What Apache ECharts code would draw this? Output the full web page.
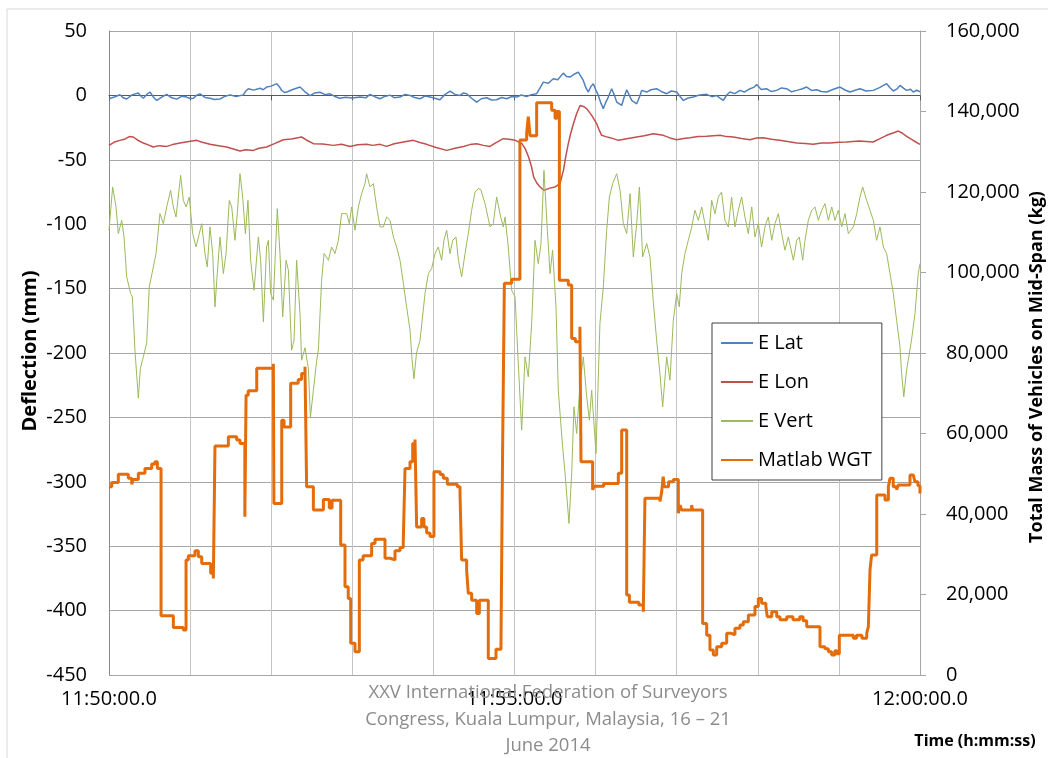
<!DOCTYPE html>
<html><head><meta charset="utf-8">
<script src="https://cdn.jsdelivr.net/npm/echarts@6/dist/echarts.min.js"></script>
<style>html,body{margin:0;padding:0;background:#fff}#c{width:1048px;height:758px}</style>
</head><body><div id="c"></div>
<script>
// Time axis: seconds after 11:50:00.0, tick every 60 s
const timeTickLabels = ['11:50:00.0','','','','','11:55:00.0','','','','','12:00:00.0'];
const seriesNames = ['E Lat','E Lon','E Vert','Matlab WGT'];

// E Lat (mm) [t, value]
const eLat = [[0,-2.6],[4,-1.2],[8.1,0.5],[10.5,-1.8],[13.1,-2.8],[17,0.4],[21.7,1.8],[23.5,-0.5],[25.4,-2.2],[28,0.9],[30.3,2.6],[33,-1.5],[35.3,-3.9],[39,-1.4],[42.7,0.8],[46.5,-1.9],[50.1,-2.9],[54,-0.6],[57.5,-1.3],[60,-2.4],[62.4,-2.2],[65,0.2],[67.3,1.2],[71,-1.6],[74.7,-2.2],[78,-3.2],[82.1,-2.8],[86,-0.6],[89.5,0.4],[94,-0.8],[99.4,0.4],[101,3.2],[103.1,5.2],[107,4.1],[111.7,5.6],[114,4.4],[116.7,6.5],[120,7.2],[124.1,9.1],[126,6.8],[127.8,3.8],[130,2.2],[131.5,2.6],[136,4.6],[141.3,6.5],[145,2.8],[148.7,-0.2],[152,1.8],[156.1,2.4],[160,0.6],[163.5,1.2],[167,-0.8],[170.9,-2.2],[175,-1.4],[180,-2.0],[185.7,-1.3],[190,-1.9],[193.1,0.8],[197,-1.2],[200.5,-2.6],[204,-0.8],[207.9,0.2],[211,-1.8],[215.3,-1.3],[219,0.8],[222.7,0],[226,-1.6],[230.1,-2.6],[234,-0.4],[237.5,-1.3],[241,-2.2],[244.8,-3.4],[248.5,0.6],[252.3,3.4],[256,0.8],[259.7,0],[262,1.8],[264.6,1.3],[268,-2.0],[272,-5.2],[275.5,-2.6],[279.4,-1.8],[283,-3.6],[286.8,-3.4],[290.5,-1.6],[294.2,-2.6],[298,-0.9],[301.6,-1.3],[305,0.3],[309,-0.8],[312.5,0.6],[316.4,1.3],[319,6.0],[321.3,10.3],[325,9.4],[328.7,12.9],[332,12.2],[336.1,17.3],[338.5,14.6],[341,14.2],[344,16.4],[347.2,18.1],[349,15.0],[350.9,11.6],[352.8,6.0],[354.6,2.6],[356.5,6.8],[358.3,9.1],[360,4.6],[362,0],[364,-6.2],[365.7,-10.3],[367.5,-5.4],[369.4,-1.3],[371.9,5.2],[373.8,0.4],[375.6,-5.2],[379.3,-7.8],[381,-1.8],[383,4.4],[386.7,-3.9],[390.4,-6.5],[392.5,-1.0],[394.1,3.9],[397.8,2.6],[401,4.4],[405.2,5.2],[409,2.8],[412.6,1.3],[416,3.4],[420,2.6],[422.5,-0.8],[424.9,-3.9],[428.5,-2.0],[432.3,-1.3],[437,0.4],[442.2,0.8],[446,-1.0],[449.6,0],[452,-2.2],[454.5,-3.9],[457,0.3],[459.4,2.6],[463,1.4],[466.8,3.9],[470,2.6],[474.2,5.2],[477,6.2],[479.1,8.5],[482.5,4.6],[486.5,5.2],[490,3.0],[493.9,3.9],[497.5,5.8],[501.3,5.2],[505,2.8],[508.8,3.9],[512.5,5.0],[516.2,6.5],[520,3.8],[523.6,4.4],[527,3.0],[531,2.6],[536,4.8],[540.8,6.5],[544.5,4.2],[548.2,2.6],[552,4.0],[555.6,5.2],[560,3.4],[565.5,3.9],[570,6.0],[575.3,9.1],[578,5.8],[580.3,3.4],[583,5.0],[585.2,7.8],[588,5.4],[590.1,3.9],[593,4.8],[595,2.6],[597.5,4.0],[600,2.8]];

// E Lon (mm)
const eLon = [[0,-38.8],[4,-36.2],[8.1,-34.9],[12,-33.8],[15,-32.0],[18,-32.3],[21,-34.6],[25.4,-37],[29,-38.4],[32.8,-40.1],[37,-39.0],[42.7,-39.6],[47,-38.2],[52.5,-37],[58,-36.0],[64.9,-34.9],[69,-36.4],[74.7,-38],[80,-38.9],[87,-40.1],[92,-41.6],[96.9,-43.2],[101,-42.2],[106.8,-42.7],[111,-41.0],[116.6,-40.1],[122,-37.6],[129,-34.4],[135,-33.8],[142.5,-32.3],[146,-34.6],[151.2,-37.5],[158,-37.8],[166,-38.8],[172,-38.0],[178.3,-39.6],[184,-38.4],[190.6,-38],[195,-38.8],[200.5,-38],[205.4,-39.6],[211,-37.6],[217.8,-36.2],[225.2,-34.9],[230,-36.6],[235,-38],[242,-40.4],[249.8,-42.7],[256,-41.0],[262.2,-39.6],[267,-38.2],[272,-37.5],[277,-38.8],[281.9,-39.6],[286,-36.8],[291.7,-33.6],[296,-34.0],[300.6,-34.9],[305.5,-37.5],[308,-41.5],[310.4,-47.8],[312.5,-55.0],[314.2,-63.4],[316.5,-68.0],[318.9,-71.1],[321.9,-73.7],[326,-72.0],[330,-71.1],[333.7,-68.5],[336.2,-58.2],[338,-47.0],[339.8,-37.5],[341.7,-29.0],[343.6,-22],[346,-14.0],[348.5,-7.8],[351,-8.6],[353.4,-10.3],[357.1,-15.5],[360.8,-22],[362.7,-27.0],[364.5,-31],[367.5,-32.0],[370.7,-32.8],[376.9,-34.9],[383,-33.6],[390.4,-32.3],[396,-31.4],[402.7,-29.7],[410.1,-31],[415,-33.0],[420,-34.4],[425,-33.4],[429.8,-32.8],[436,-32.0],[442.2,-31.8],[452,-31],[457,-32.0],[461.9,-32.3],[468,-33.4],[474.2,-34.4],[479,-33.0],[484.1,-32.8],[490,-34.0],[496.2,-34.9],[502,-35.8],[508.8,-37],[515,-37.4],[521,-38],[527,-37.0],[533.3,-37],[540,-36.4],[545.6,-36.2],[555,-35.4],[565.3,-36.2],[570,-33.8],[575.3,-31],[580,-29.2],[584,-27.7],[587,-29.4],[590.1,-31.8],[595,-35.0],[600,-38]];

// E Vert (mm)
const eVert = [[0,-104.7],[2.7,-71.1],[5.2,-86.6],[6.9,-107.3],[9.4,-97.0],[11.1,-109.9],[13.1,-140.9],[16.0,-153.8],[17.3,-156.5],[19.2,-197.8],[21.7,-235],[23.2,-212],[25.4,-203],[27.9,-192],[29.8,-148.7],[32.8,-133.2],[34.8,-122.8],[37.7,-91.8],[40.2,-99.6],[42.7,-86.6],[45.6,-73.7],[47.6,-86.6],[49.6,-94.4],[53.0,-62.1],[55.0,-81.5],[57.0,-86.6],[59.4,-78.9],[61.9,-107.3],[64.4,-117.7],[66.8,-107.3],[68.6,-99.6],[71.0,-122.8],[72.7,-133.2],[74.7,-102.1],[76.7,-122.8],[78.4,-164.2],[80.1,-138.3],[82.1,-109.9],[84.6,-138.3],[86.6,-122.8],[89.0,-81.5],[90.8,-86.6],[93.2,-112.5],[94.9,-91.8],[96.9,-60.8],[98.9,-78.9],[100.9,-107.3],[102.8,-81.5],[104.8,-128.0],[107.3,-151.3],[110.5,-109.9],[112.2,-128.0],[114.2,-175.8],[116.6,-117.7],[117.9,-112.5],[119.6,-153.9],[121.6,-159.0],[124.5,-87.9],[126.5,-122.8],[128.5,-172.0],[131.0,-128.0],[132.7,-135.7],[135.1,-197.8],[136.9,-190],[138.8,-128.0],[141.3,-169.4],[142.5,-205.6],[145,-196],[147.5,-212],[149,-250],[151.2,-229],[153.7,-205.6],[154.9,-197.8],[157.3,-143.5],[159.1,-122.8],[162.3,-128.0],[164.7,-117.7],[167.2,-122.8],[169.7,-112.5],[172.1,-91.8],[175.8,-91.8],[177.8,-99.6],[179.5,-86.6],[182.0,-104.7],[184.5,-86.6],[186.9,-76.3],[189.4,-68.5],[190.6,-60.8],[193.1,-71.1],[195.6,-68.5],[198.0,-86.6],[200.5,-102.1],[203.0,-102.1],[205.4,-94.4],[207.9,-97.0],[210.4,-109.9],[212.8,-117.7],[215.3,-128.0],[217.8,-146.1],[220.2,-164.2],[222.7,-182.3],[224.2,-205],[225.6,-220],[227.5,-200],[230.1,-190.1],[233.8,-153.9],[236.3,-138.3],[238.7,-134.5],[241.2,-122.8],[243.6,-117.7],[246.1,-128.0],[247.8,-112.5],[249.8,-104.7],[252.3,-122.8],[254.3,-112.5],[256.7,-109.9],[258.5,-128.0],[260.9,-140.9],[263.4,-122.8],[265.8,-107.3],[268.3,-89.2],[270.8,-75.0],[273.2,-72.4],[275.0,-73],[278.2,-84.0],[281.9,-102.1],[284.3,-99.6],[286.8,-78.9],[289.8,-94.4],[291.7,-102.1],[293.0,-94.4],[295.4,-117.7],[297.9,-151.3],[300.4,-156.4],[302.8,-208.2],[305.3,-259.9],[307.8,-203.0],[310.2,-218.5],[312.7,-177.1],[315.2,-112.5],[317.6,-130.6],[319.6,-115.1],[321.8,-58.2],[324.3,-104.7],[326.3,-138.3],[328.2,-120.2],[330.7,-164.2],[332.4,-228.9],[335.6,-272.8],[337.4,-293.5],[340.3,-332.3],[342.3,-293.5],[344.0,-241.8],[346.0,-262.5],[348.5,-223.7],[350.9,-203.0],[353.4,-234.0],[355.4,-252.1],[357.1,-228.9],[360.3,-278.0],[363.2,-177.1],[365.7,-148.7],[368.2,-104.7],[370.2,-78.9],[372.6,-68.5],[375.6,-60.8],[378.1,-73.7],[380.5,-99.6],[383.0,-107.3],[385.5,-76.3],[387.9,-125.4],[390.4,-99.6],[392.4,-71.1],[394.8,-125.4],[397.8,-115.0],[400.2,-125.2],[402.7,-160.1],[405.2,-190.6],[407.6,-215.9],[409.6,-241.8],[412.6,-203.0],[415.0,-221.1],[417.5,-174.6],[420.0,-153.9],[421.9,-164.2],[423.7,-138.3],[426.1,-122.8],[428.6,-112.5],[431.1,-102.1],[433.5,-89.2],[436.0,-97.0],[438.5,-86.6],[440.9,-99.6],[443.4,-112.5],[445.9,-81.5],[448.3,-91.8],[450.8,-78.9],[453.2,-75.0],[455.7,-97.0],[458.2,-102.1],[460.6,-78.9],[463.1,-102.1],[465.6,-89.2],[468.0,-78.9],[470.5,-94.4],[473.0,-107.3],[475.5,-86.6],[477.9,-109.9],[480.4,-99.6],[482.8,-117.7],[485.3,-102.1],[487.8,-94.4],[490.3,-112.5],[492.7,-99.6],[495.2,-91.8],[497.7,-107.3],[500.1,-120.2],[502.6,-109.9],[506.3,-128.0],[508.8,-112.5],[510.7,-109.9],[513.2,-128.0],[514.9,-112.5],[517.4,-97.0],[519.9,-89.2],[522.3,-86.6],[524.8,-97.0],[527.3,-89.2],[529.7,-84.0],[532.2,-97.0],[534.7,-86.6],[537.1,-97.0],[539.6,-89.2],[542.1,-102.1],[544.5,-91.8],[547.0,-107.3],[550.7,-102.1],[553.2,-91.8],[555.6,-78.9],[557.6,-71.1],[560.5,-81.5],[563.0,-89.2],[565.5,-97.0],[567.9,-112.5],[570.4,-102.1],[572.9,-117.7],[575.3,-122.8],[577.8,-138.3],[580.3,-153.9],[582.7,-174.6],[585.2,-195.2],[586.4,-216],[588,-234],[590,-214],[593.7,-190],[596.3,-169.4],[598.7,-138.3],[600,-130.6]];

// Matlab WGT (kg) [t where level starts, level]
const matlabWgt = [[0,46800],[2,47800],[6.9,49900],[14.3,48900],[16.8,47400],[18,48600],[21.7,50100],[26.6,51300],[31.6,52400],[34,53000],[35.8,51300],[38.5,14700],[47.6,11800],[55,11200],[57,28600],[58.7,29600],[63.6,30900],[66.1,29400],[68.6,27700],[75.2,25300],[77.2,24000],[78.4,56900],[88.3,59200],[94.5,58400],[96.9,57500],[100.5,39300],[101.4,69500],[103,70600],[109.3,76200],[121.6,77300],[122,42600],[127.8,63300],[129.5,61600],[134.4,72500],[140,73400],[142.5,74900],[145,76600],[146.2,46800],[151.2,41000],[158.6,43600],[163,41500],[165,43400],[171.4,32300],[174.6,21900],[177,19000],[178.8,7900],[182,5800],[185.2,28600],[188,29600],[194.3,32700],[196.8,33700],[204.2,29000],[207.9,28600],[211.6,30900],[215.3,31700],[217.7,32900],[219,51300],[222.7,53000],[224.7,57500],[226.4,58500],[227.6,36800],[231.3,38900],[233,36800],[235,35300],[237.5,34400],[240.4,50500],[245,49800],[247.3,48900],[250.3,47400],[257.7,46800],[259.7,44700],[260.9,28600],[264.6,26100],[265.8,20300],[268.3,18600],[272,15300],[274,18600],[280.6,4100],[286.3,6400],[290,7900],[291.2,55900],[292.5,97300],[297.9,98300],[304,132900],[309,134600],[310.2,138700],[311.5,134000],[316.4,142200],[327.5,140300],[330,138300],[331.5,140000],[333.2,98100],[339.8,96900],[342.3,83600],[345,82800],[348.4,86500],[349.2,53000],[357.8,46000],[359,46900],[366,47600],[376.8,50100],[379.3,60900],[383,19900],[385,18100],[392,17400],[395.3,15700],[396.5,43900],[407.6,43100],[408.9,45500],[410,49300],[410.8,46800],[414,48000],[417.5,48600],[421.2,40200],[422.5,42200],[423.7,41000],[431,42200],[431.8,41000],[439.2,12800],[442.2,9900],[444.6,6200],[447.1,5000],[449.6,7000],[453.3,7900],[457,10400],[460,10000],[463.1,11600],[466.8,12400],[469.3,13200],[473,14900],[477.9,17000],[480.4,19000],[482.8,17800],[486,17000],[487,14500],[490.3,15700],[494,14500],[496.4,13700],[501.4,14500],[506,13700],[511,14500],[513.5,13500],[516.2,12000],[526,7000],[529.7,6500],[532.2,5800],[534.6,5000],[537,6000],[538.5,5300],[540.3,9900],[550.7,9100],[553,9900],[557,9100],[560.6,10400],[561.8,12000],[563,26100],[564.2,29800],[568,44700],[574.1,43500],[576.6,46800],[577.8,48900],[580.2,46800],[582.7,46000],[584,47200],[592.6,49700],[595,50100],[596.3,48000],[598.5,47000],[600,45100]];

const colors = ['#4F81BD','#C0504D','#9BBB59','#E46C0A'];
const FONT = '"Open Sans", "Noto Sans", sans-serif';

const chart = echarts.init(document.getElementById('c'), null, {renderer:'canvas'});
chart.setOption({
  animation: false,
  backgroundColor: '#fff',
  color: colors,
  grid: {left:109, right:128, top:31, bottom:83, containLabel:false},
  legend: {
    data: seriesNames, orient:'vertical', left:712, top:323,
    padding:[10,10,10,8], itemWidth:32, itemHeight:20, itemGap:19,
    borderColor:'#404040', borderWidth:1, backgroundColor:'#fff',
    itemStyle:{opacity:0},
    textStyle:{fontSize:20, fontFamily:FONT, color:'#000'}
  },
  xAxis: {
    type:'value', min:0, max:600, interval:60,
    axisLine:{show:true, lineStyle:{color:'#595959', width:1}},
    axisTick:{show:true, length:5, lineStyle:{color:'#595959'}},
    axisLabel:{margin:14, fontSize:20, fontFamily:FONT, color:'#000',
      formatter: v => timeTickLabels[Math.round(v/60)] || ''},
    splitLine:{show:true, lineStyle:{color:'#c4c4c4', width:1}}
  },
  yAxis: [
    {type:'value', min:-450, max:50, interval:50,
     axisLine:{show:true, lineStyle:{color:'#8c8c8c'}},
     axisTick:{show:false},
     axisLabel:{margin:22, fontSize:20, fontFamily:FONT, color:'#000'},
     splitLine:{show:true, lineStyle:{color:'#a6a6a6', width:1}}},
    {type:'value', min:0, max:160000, interval:20000, position:'right',
     axisLine:{show:true, lineStyle:{color:'#a6a6a6'}},
     axisTick:{show:true, length:6, lineStyle:{color:'#a6a6a6'}},
     axisLabel:{margin:26, fontSize:20, fontFamily:FONT, color:'#000',
       formatter: v => String(v).replace(/\B(?=(\d{3})+(?!\d))/g, ',')},
     splitLine:{show:false}}
  ],
  series: [
    {name:seriesNames[0], type:'line', data:eLat, showSymbol:false, symbol:'none', lineStyle:{width:1.5, color:colors[0]}, z:3},
    {name:seriesNames[1], type:'line', data:eLon, showSymbol:false, symbol:'none', lineStyle:{width:1.5, color:colors[1]}, z:3},
    {name:seriesNames[2], type:'line', data:eVert, showSymbol:false, symbol:'none', lineStyle:{width:1, color:colors[2]}, z:3},
    {name:seriesNames[3], type:'line', yAxisIndex:1, step:'end', data:matlabWgt, showSymbol:false, symbol:'none', lineStyle:{width:3, color:colors[3]}, z:4}
  ],
  graphic: [
    {type:'rect', z:-10, shape:{x:7, y:9, width:1100, height:800}, style:{fill:'none', stroke:'#d9d9d9', lineWidth:1}},
    {type:'text', x:30, y:351, rotation:Math.PI/2, z:50,
     style:{text:'Deflection (mm)', font:'bold 20px ' + FONT, fill:'#000', align:'center', verticalAlign:'middle', textAlign:'center', textVerticalAlign:'middle'}},
    {type:'text', x:1037, y:367, rotation:Math.PI/2, z:50,
     style:{text:'Total Mass of Vehicles on Mid-Span (kg)', font:'bold 18px ' + FONT, fill:'#000', align:'center', verticalAlign:'middle', textAlign:'center', textVerticalAlign:'middle'}},
    {type:'text', x:975, y:741, z:50,
     style:{text:'Time (h:mm:ss)', font:'bold 16px ' + FONT, fill:'#000', align:'center', verticalAlign:'middle', textAlign:'center', textVerticalAlign:'middle'}},
    {type:'text', x:548, y:693, z:100,
     style:{text:'XXV International Federation of Surveyors', font:'18.5px ' + FONT, fill:'#8c8c8c', align:'center', verticalAlign:'middle', textAlign:'center', textVerticalAlign:'middle'}},
    {type:'text', x:548, y:720, z:100,
     style:{text:'Congress, Kuala Lumpur, Malaysia, 16 \u2013 21', font:'18.5px ' + FONT, fill:'#8c8c8c', align:'center', verticalAlign:'middle', textAlign:'center', textVerticalAlign:'middle'}},
    {type:'text', x:548, y:746, z:100,
     style:{text:'June 2014', font:'18.5px ' + FONT, fill:'#8c8c8c', align:'center', verticalAlign:'middle', textAlign:'center', textVerticalAlign:'middle'}}
  ]
});
</script>
</body></html>
